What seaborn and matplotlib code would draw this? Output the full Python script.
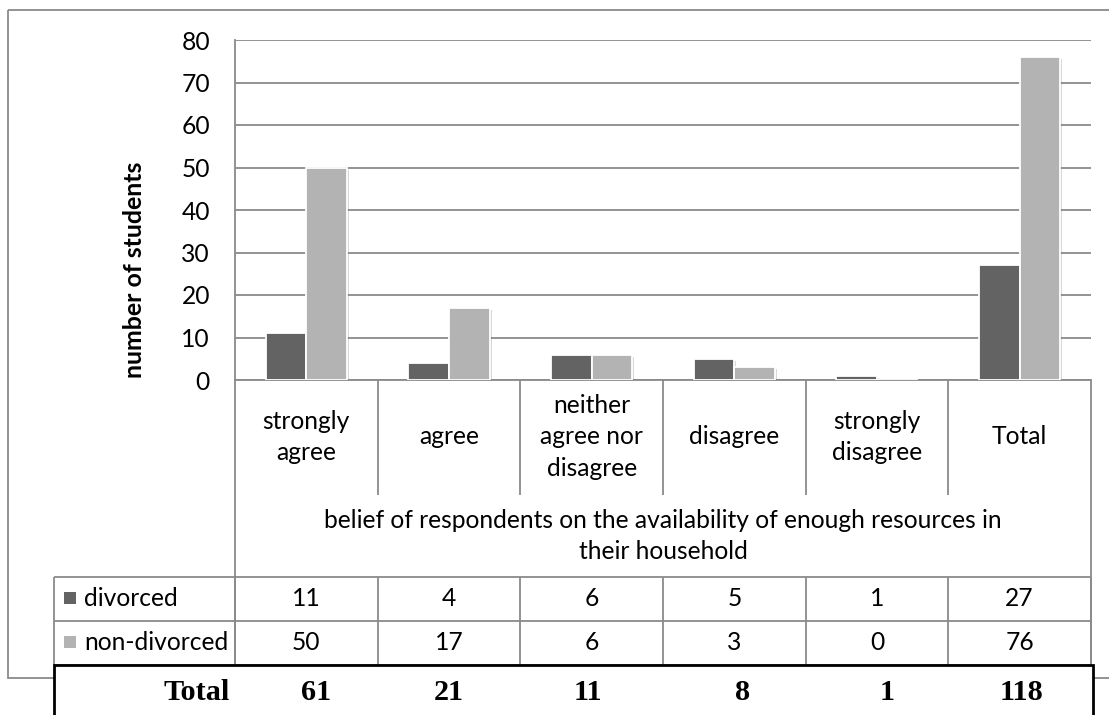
import matplotlib
matplotlib.use("Agg")
import matplotlib.pyplot as plt
import matplotlib.transforms as mtransforms
import matplotlib.patheffects as pe
from matplotlib.patches import Rectangle
import numpy as np
import pandas as pd
import seaborn as sns

# ---- data -------------------------------------------------------------
categories = ["strongly\nagree", "agree", "neither\nagree nor\ndisagree",
              "disagree", "strongly\ndisagree", "Total"]
series_names = ["divorced", "non-divorced"]
divorced = [11, 4, 6, 5, 1, 27]
non_divorced = [50, 17, 6, 3, 0, 76]
total_row = [61, 21, 11, 8, 1, 118]
y_ticks = [0, 10, 20, 30, 40, 50, 60, 70, 80]
x_title = "belief of respondents on the availability of enough resources in\ntheir household"
y_title = "number of students"
total_label = "Total"

palette = {"divorced": "#636363", "non-divorced": "#b3b3b3"}
line_gray = "#8a8a8a"

sns.set_theme(style="white")
plt.rcParams["font.family"] = ["Lato", "DejaVu Sans"]

df = pd.DataFrame({
    "category": categories * 2,
    "group": [series_names[0]] * len(categories) + [series_names[1]] * len(categories),
    "count": divorced + non_divorced,
})

# ---- figure & layout (pixel units) -----------------------------------
W, H = 1109, 715
fig = plt.figure(figsize=(W / 100, H / 100), dpi=100)
fig.patch.set_facecolor("white")

ov = fig.add_axes([0, 0, 1, 1], zorder=0)
ov.set_xlim(0, W)
ov.set_ylim(H, 0)
ov.axis("off")

x0, x1, ytop, ybase = 235, 1091, 40, 380
ax = fig.add_axes([x0 / W, 1 - ybase / H, (x1 - x0) / W, (ybase - ytop) / H], zorder=1)
ax.patch.set_alpha(0)

sns.barplot(data=df, x="category", y="count", hue="group", order=categories,
            hue_order=series_names, palette=palette, width=0.57, ax=ax,
            legend=False, edgecolor="white", linewidth=1.3, saturation=1, zorder=3)

for p in ax.patches:
    if p.get_height() > 0:
        p.set_path_effects([pe.SimplePatchShadow(offset=(1.5, -1.5), shadow_rgbFace="0.4", alpha=0.25),
                            pe.Normal()])

ax.set_ylim(0, 80)
ax.set_xlim(-0.5, len(categories) - 0.5)
ax.set_yticks(y_ticks)
ax.yaxis.grid(True, color=line_gray, lw=1.3)
ax.xaxis.grid(False)
ax.set_axisbelow(True)
for s in ["top", "right"]:
    ax.spines[s].set_visible(False)
for s in ["left", "bottom"]:
    ax.spines[s].set_color(line_gray)
    ax.spines[s].set_linewidth(1.3)

fs = 17.7
ax.tick_params(axis="y", length=0, pad=18, labelsize=fs, labelcolor="black")
ax.set_xticks(range(len(categories)))
ax.set_xticklabels(categories, fontsize=fs, linespacing=1.45)
ax.tick_params(axis="x", length=0, pad=41, labelcolor="black")
for t in ax.get_xticklabels():
    t.set_va("center")
ax.set_xlabel("")
ax.set_ylabel(y_title, fontsize=17.9, fontweight="bold", color="black")
ax.yaxis.label.set_va("center")
ax.yaxis.set_label_coords((134 - x0) / (x1 - x0), (ybase - 270) / (ybase - ytop))

# ---- data table under the axis ---------------------------------------
trans = mtransforms.blended_transform_factory(ax.transData, ov.transData)
bounds = np.arange(-0.5, len(categories), 1.0)
lkw = dict(color=line_gray, lw=1.3, solid_capstyle="butt")

y_cat_bottom, y_row1, y_row2, y_row3 = 495, 577, 621, 665
x_leg = 54

for xb in bounds[1:-1]:
    ov.plot([xb, xb], [ybase, y_cat_bottom], transform=trans, **lkw)
for xb in (bounds[0], bounds[-1]):
    ov.plot([xb, xb], [ybase, y_row3], transform=trans, **lkw)
for xb in bounds:
    ov.plot([xb, xb], [y_row1, y_row3], transform=trans, **lkw)
for yr in (y_row1, y_row2, y_row3):
    ov.plot([x_leg, x1], [yr, yr], **lkw)
ov.plot([x_leg, x_leg], [y_row1, y_row3], **lkw)

ov.text(2.5, 536, x_title, transform=trans, ha="center", va="center",
        fontsize=fs, linespacing=1.45, color="black")

for row_y, name, vals in ((599, series_names[0], divorced), (643, series_names[1], non_divorced)):
    ov.add_patch(Rectangle((64, row_y - 7), 12, 12, facecolor=palette[name], edgecolor="none"))
    ov.text(84, row_y, name, ha="left", va="center", fontsize=fs, color="black")
    for i, v in enumerate(vals):
        ov.text(i, row_y, str(v), transform=trans, ha="center", va="center",
                fontsize=fs, color="black")

# outer chart frame
ov.add_patch(Rectangle((8, 10), 1110, 668, facecolor="none", edgecolor=line_gray, lw=1.3))

# totals row beneath the chart
ov.add_patch(Rectangle((x_leg, y_row3), 1093 - x_leg, 70, facecolor="white",
                       edgecolor="black", lw=2, zorder=5))
serif = dict(family=["Liberation Serif", "DejaVu Serif"], fontweight="bold",
             fontsize=21.8, color="black", va="center", zorder=6)
ov.text(197, 693, total_label, ha="center", **serif)
total_cell_x = [316, 449, 588, 743, 887, 1022]
for xc, v in zip(total_cell_x, total_row):
    ov.text(xc, 693, str(v), ha="center", **serif)

fig.savefig("out.png", dpi=100, facecolor="white")
